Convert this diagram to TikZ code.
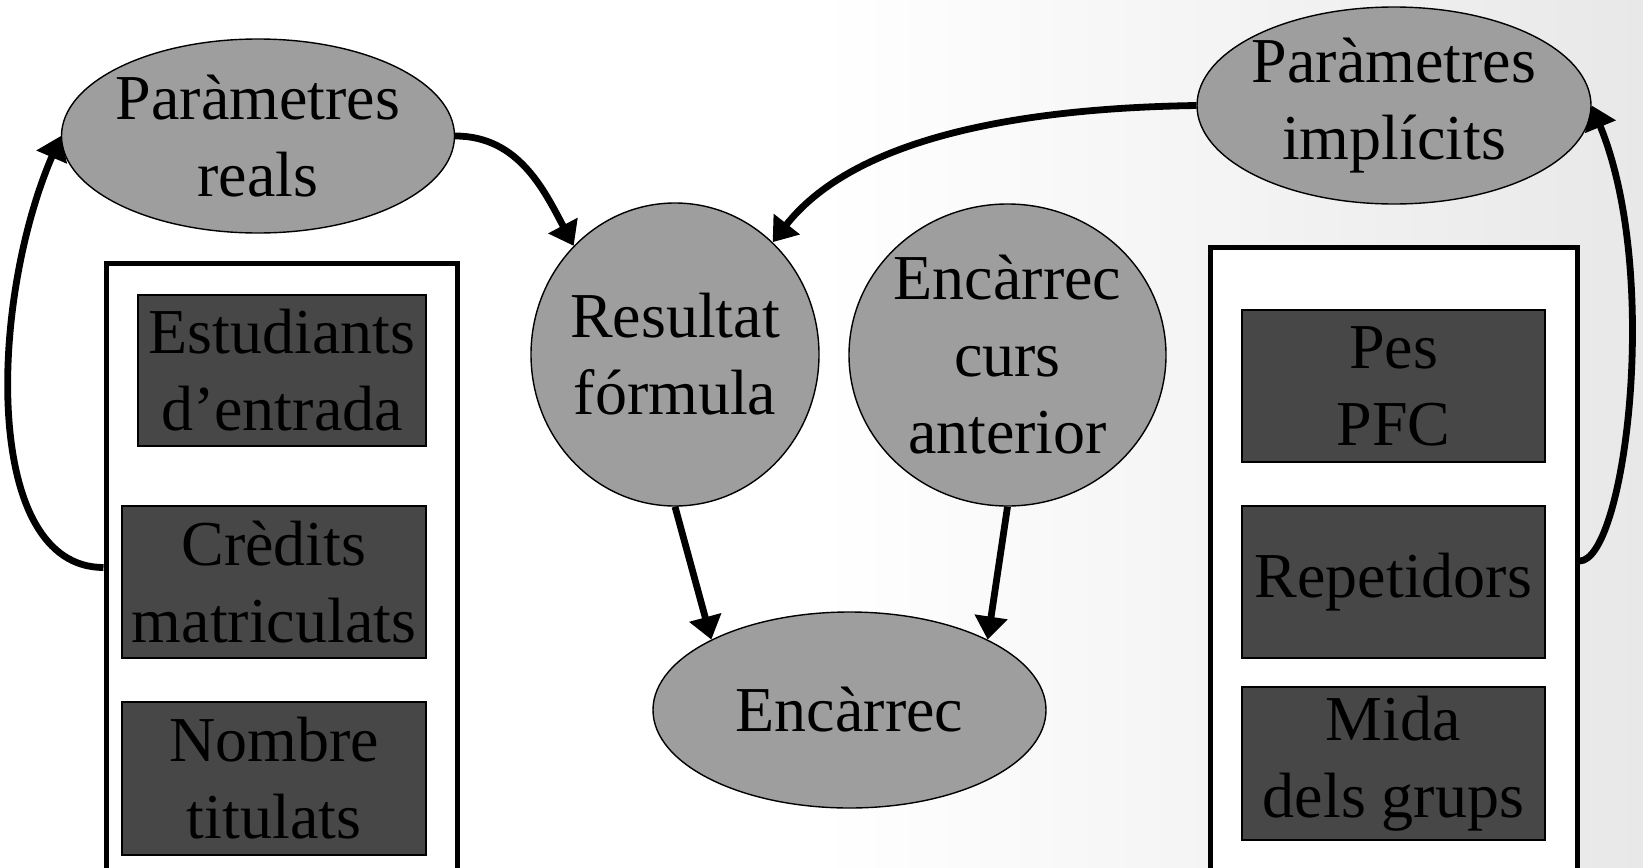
\documentclass[tikz,border=0pt]{standalone}
\usepackage{fontspec}
\setmainfont{Liberation Serif}
\usetikzlibrary{arrows.meta, shapes.geometric}
\newcommand{\bigtext}{\fontsize{32}{38.5}\selectfont}
\tikzset{
    % node styles
    oval/.style = {ellipse, draw=black, line width=0.7pt, fill=black!38, inner sep=-4pt, align=center, font=\bigtext},
    group box/.style = {rectangle, draw=black, line width=2.5pt, fill=white},
    item/.style = {rectangle, draw=black, line width=0.6pt, fill=black!72, inner sep=0pt, align=center, font=\bigtext},
    % arrow style
    post/.style = {-{Triangle[length=11.5pt, width=16pt]}, line width=3.4pt},
}

\begin{document}
\begin{tikzpicture}[x=0.5pt, y=-0.5pt]
    \useasboundingbox (0,0) rectangle (1643,867);
    % faded background on the right
    \shade[left color=white, right color=black!9] (820,0) rectangle (1643,867);

    % left group
    \node[group box, minimum width=175.5pt, minimum height=304.5pt] (left) at (281.5,567.5) {};
    \node[item, minimum width=144pt, minimum height=75.5pt] (estud) at (282,370.5) {Estudiants\\d’entrada};
    \node[item, minimum width=152pt, minimum height=76pt] (credits) at (274,582) {Crèdits\\matriculats};
    \node[item, minimum width=152pt, minimum height=76.5pt] (titulats) at (274,778.5) {Nombre\\titulats};

    % right group
    \node[group box, minimum width=183.5pt, minimum height=314pt] (right) at (1393.5,561) {};
    \node[item, minimum width=151.5pt, minimum height=76pt] (pes) at (1393.5,386) {Pes\\PFC};
    \node[item, minimum width=151.5pt, minimum height=76pt] (repet) at (1393.5,582) {Repetidors};
    \node[item, minimum width=151.5pt, minimum height=76.5pt] (mida) at (1393.5,763.5) {Mida\\dels grups};

    % ovals
    \node[oval, minimum width=196.5pt, minimum height=97pt] (preal) at (258,136) {Paràmetres\\reals};
    \node[oval, minimum width=197pt, minimum height=98.5pt] (pimpl) at (1394,105.5) {Paràmetres\\implícits};
    \node[oval, minimum width=144pt, minimum height=151.5pt] (res) at (675,354.5) {Resultat\\fórmula};
    \node[oval, minimum width=158.5pt, minimum height=151pt] (curs) at (1007.5,355) {Encàrrec\\curs\\anterior};
    \node[oval, minimum width=196.5pt, minimum height=98pt] (enc) at (849.5,710) {Encàrrec};

    % arrows
    \draw[post] (preal.east) to[out=0, in=118] (res.133);
    \draw[post] (pimpl.west) .. controls +(-197,3) and +(77,-98) .. (res.49);
    \draw[post] (res.south) -- (enc.153);
    \draw[post] (curs.south) -- (enc.27);
    \draw[post] (left.west) .. controls +(-121,0) and +(-72,167) .. (preal.west);
    \draw[post] (right.east) .. controls +(45,0) and +(70,170) .. (pimpl.east);
\end{tikzpicture}
\end{document}
